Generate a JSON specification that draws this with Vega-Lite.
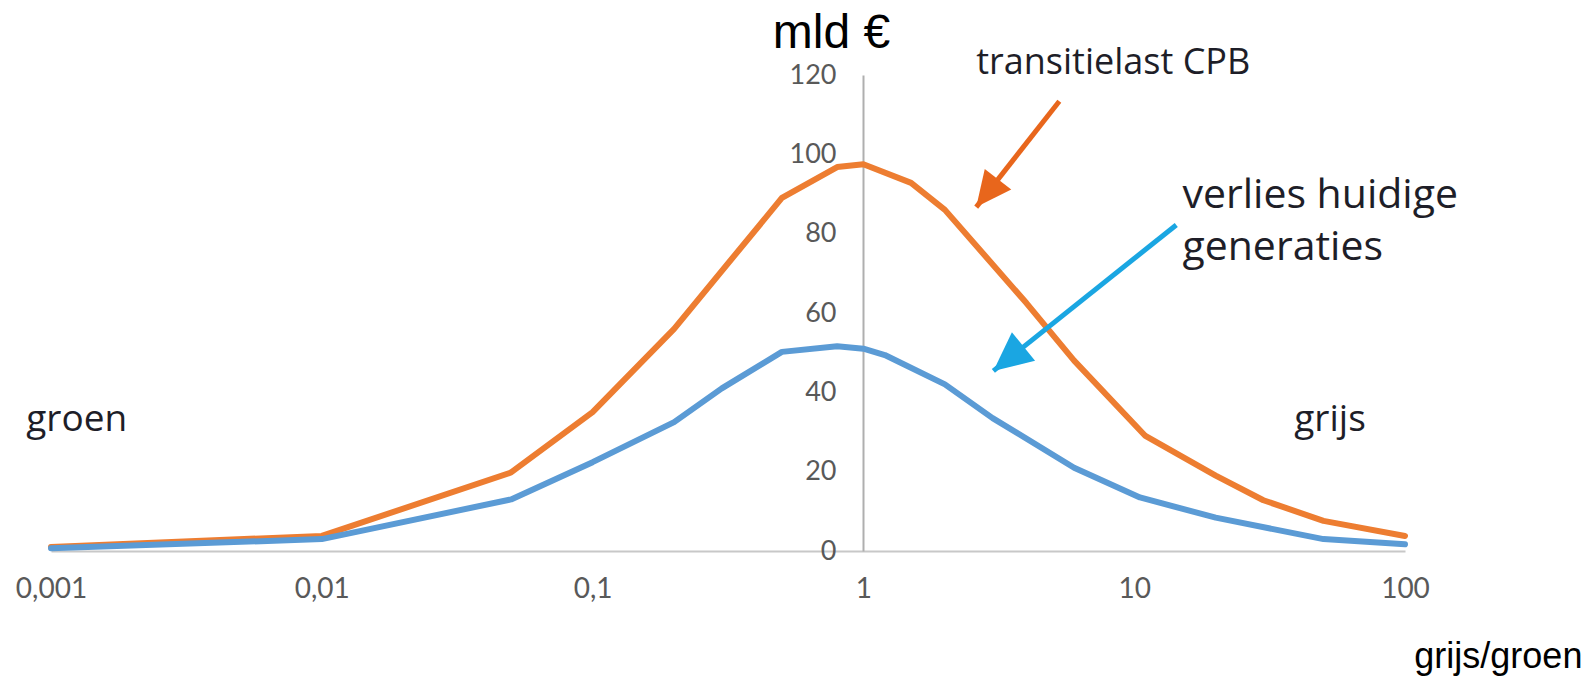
{
  "$schema": "https://vega.github.io/schema/vega-lite/v6.json",
  "width": 1354,
  "height": 476,
  "autosize": {"type": "none"},
  "padding": {"left": 51, "top": 75, "right": 176, "bottom": 127},
  "background": "white",
  "config": {"view": {"stroke": null}},
  "datasets": {
    "curves": [
      {"x": 0.001, "v": 1.0, "s": "transitielast"},
      {"x": 0.01, "v": 3.8, "s": "transitielast"},
      {"x": 0.05, "v": 19.8, "s": "transitielast"},
      {"x": 0.1, "v": 35, "s": "transitielast"},
      {"x": 0.2, "v": 56, "s": "transitielast"},
      {"x": 0.5, "v": 89, "s": "transitielast"},
      {"x": 0.8, "v": 96.8, "s": "transitielast"},
      {"x": 1, "v": 97.5, "s": "transitielast"},
      {"x": 1.5, "v": 92.8, "s": "transitielast"},
      {"x": 2, "v": 86, "s": "transitielast"},
      {"x": 4, "v": 62.5, "s": "transitielast"},
      {"x": 6, "v": 48, "s": "transitielast"},
      {"x": 11, "v": 29, "s": "transitielast"},
      {"x": 20, "v": 19, "s": "transitielast"},
      {"x": 30, "v": 12.8, "s": "transitielast"},
      {"x": 50, "v": 7.6, "s": "transitielast"},
      {"x": 100, "v": 3.8, "s": "transitielast"},
      {"x": 0.001, "v": 0.7, "s": "verlies"},
      {"x": 0.01, "v": 3.0, "s": "verlies"},
      {"x": 0.05, "v": 13, "s": "verlies"},
      {"x": 0.1, "v": 22.4, "s": "verlies"},
      {"x": 0.2, "v": 32.5, "s": "verlies"},
      {"x": 0.3, "v": 41, "s": "verlies"},
      {"x": 0.5, "v": 50.2, "s": "verlies"},
      {"x": 0.8, "v": 51.6, "s": "verlies"},
      {"x": 1, "v": 51, "s": "verlies"},
      {"x": 1.2, "v": 49.4, "s": "verlies"},
      {"x": 2, "v": 42, "s": "verlies"},
      {"x": 3, "v": 33.5, "s": "verlies"},
      {"x": 6, "v": 21, "s": "verlies"},
      {"x": 10.5, "v": 13.5, "s": "verlies"},
      {"x": 20, "v": 8.4, "s": "verlies"},
      {"x": 50, "v": 3, "s": "verlies"},
      {"x": 100, "v": 1.7, "s": "verlies"}
    ],
    "arrows": [
      {"s": "pijl_t", "x": 5.29, "v": 113.4, "x2": 2.61, "v2": 86.7},
      {"s": "pijl_v", "x": 14.3, "v": 82.2, "x2": 3.02, "v2": 45.4}
    ],
    "notes_top": [
      {"label": "transitielast CPB", "x": 2.61, "v": 120.2}
    ],
    "notes_right": [
      {"label": "verlies huidige", "x": 15.07, "v": 86.5},
      {"label": "generaties", "x": 15.07, "v": 73.4}
    ],
    "notes_side": [
      {"label": "groen", "x": 0.00081, "v": 30.2},
      {"label": "grijs", "x": 39, "v": 30.2}
    ],
    "unit": [{"label": "mld €", "x": 0.762, "v": 126.8}],
    "xtitle": [{"label": "grijs/groen", "x": 452, "v": -29.5}]
  },
  "layer": [
    {
      "data": {"name": "curves"},
      "mark": {"type": "line", "strokeWidth": 6, "strokeJoin": "round", "strokeCap": "round"},
      "encoding": {
        "x": {
          "field": "x", "type": "quantitative",
          "scale": {"type": "log", "domain": [0.001, 100], "nice": false},
          "axis": {
            "values": [0.001, 0.01, 0.1, 1, 10, 100],
            "labelExpr": "replace(format(datum.value, '~g'), '.', ',')",
            "title": null, "grid": false, "ticks": false,
            "domainColor": "#C8C8C8", "domainWidth": 2,
            "labelFont": "Lato", "labelFontSize": 28, "labelColor": "#595959",
            "labelPadding": 24, "labelFlush": false, "labelOverlap": false
          }
        },
        "y": {
          "field": "v", "type": "quantitative",
          "scale": {"domain": [0, 120], "nice": false},
          "axis": {
            "values": [0, 20, 40, 60, 80, 100, 120],
            "orient": "left", "offset": -812,
            "title": null, "grid": false, "ticks": false,
            "domainColor": "#AFAFAF", "domainWidth": 2,
            "labelFont": "Lato", "labelFontSize": 27, "labelColor": "#595959",
            "labelPadding": 27, "labelOverlap": false, "labelFlush": false
          }
        },
        "color": {
          "field": "s", "type": "nominal",
          "scale": {"domain": ["transitielast", "verlies", "pijl_t", "pijl_v"], "range": ["#ED7D31", "#5B9BD5", "#E8661C", "#1AA6E2"]},
          "legend": null
        }
      }
    },
    {
      "data": {"name": "arrows"},
      "mark": {"type": "rule", "strokeWidth": 5},
      "encoding": {
        "x": {"field": "x", "type": "quantitative"},
        "y": {"field": "v", "type": "quantitative"},
        "x2": {"field": "x2"},
        "y2": {"field": "v2"},
        "color": {"field": "s", "type": "nominal"}
      }
    },
    {
      "data": {"name": "arrows"},
      "transform": [{"filter": "datum.s == 'pijl_t'"}],
      "mark": {"type": "point", "shape": "M0,0L0.95,2L-0.95,2Z", "filled": true, "opacity": 1, "size": 1250, "angle": 218},
      "encoding": {
        "x": {"field": "x2", "type": "quantitative"},
        "y": {"field": "v2", "type": "quantitative"},
        "color": {"field": "s", "type": "nominal"}
      }
    },
    {
      "data": {"name": "arrows"},
      "transform": [{"filter": "datum.s == 'pijl_v'"}],
      "mark": {"type": "point", "shape": "M0,0L0.95,2L-0.95,2Z", "filled": true, "opacity": 1, "size": 1500, "angle": 231},
      "encoding": {
        "x": {"field": "x2", "type": "quantitative"},
        "y": {"field": "v2", "type": "quantitative"},
        "color": {"field": "s", "type": "nominal"}
      }
    },
    {
      "data": {"name": "notes_top"},
      "mark": {"type": "text", "font": "Open Sans", "fontSize": 36, "align": "left", "baseline": "alphabetic", "color": "#1E1E28"},
      "encoding": {
        "x": {"field": "x", "type": "quantitative"},
        "y": {"field": "v", "type": "quantitative"},
        "text": {"field": "label"}
      }
    },
    {
      "data": {"name": "notes_right"},
      "mark": {"type": "text", "font": "Open Sans", "fontSize": 41, "align": "left", "baseline": "alphabetic", "color": "#1E1E28"},
      "encoding": {
        "x": {"field": "x", "type": "quantitative"},
        "y": {"field": "v", "type": "quantitative"},
        "text": {"field": "label"}
      }
    },
    {
      "data": {"name": "notes_side"},
      "mark": {"type": "text", "font": "Open Sans", "fontSize": 37, "align": "left", "baseline": "alphabetic", "color": "#1E1E28"},
      "encoding": {
        "x": {"field": "x", "type": "quantitative"},
        "y": {"field": "v", "type": "quantitative"},
        "text": {"field": "label"}
      }
    },
    {
      "data": {"name": "unit"},
      "mark": {"type": "text", "font": "Liberation Sans", "fontSize": 48, "align": "center", "baseline": "alphabetic", "color": "#000000"},
      "encoding": {
        "x": {"field": "x", "type": "quantitative"},
        "y": {"field": "v", "type": "quantitative"},
        "text": {"field": "label"}
      }
    },
    {
      "data": {"name": "xtitle"},
      "mark": {"type": "text", "font": "Liberation Sans", "fontSize": 36, "align": "right", "baseline": "alphabetic", "color": "#000000"},
      "encoding": {
        "x": {"field": "x", "type": "quantitative"},
        "y": {"field": "v", "type": "quantitative"},
        "text": {"field": "label"}
      }
    }
  ]
}
